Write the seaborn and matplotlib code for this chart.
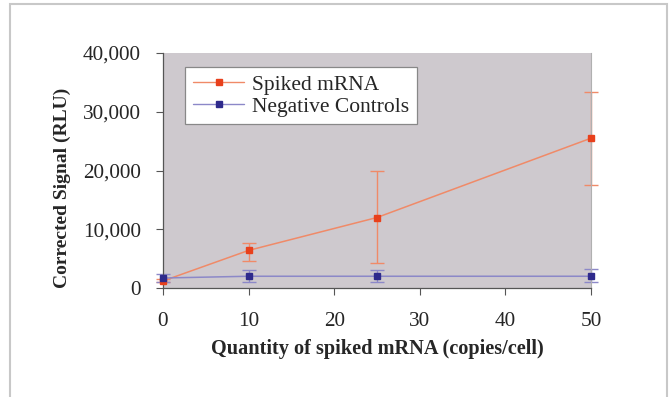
import numpy as np
import pandas as pd
import matplotlib
matplotlib.use("Agg")
import matplotlib.pyplot as plt
import seaborn as sns
from matplotlib.patches import Rectangle
from matplotlib.lines import Line2D
from matplotlib.ticker import FuncFormatter

quantity = [0, 10, 25, 50]
spiked = [1200, 6400, 12000, 25500]
spiked_lo = [1000, 4600, 4200, 17600]
spiked_hi = [1500, 7600, 20000, 33300]
negative = [1700, 2000, 2000, 2000]
negative_lo = [1000, 1000, 1000, 1000]
negative_hi = [2300, 3000, 3000, 3300]
series_names = ["Spiked mRNA", "Negative Controls"]

sns.set_style("white")
plt.rcParams["font.family"] = ["Liberation Serif", "DejaVu Serif"]

fig = plt.figure(figsize=(6.71, 3.97), dpi=100)
ax = fig.add_axes([163/671, 1 - 288/397, (591-163)/671, (288-53)/397])

df = pd.DataFrame({
    "x": quantity * 2,
    "y": spiked + negative,
    "series": [series_names[0]] * 4 + [series_names[1]] * 4,
})
line_cols = {series_names[0]: "#F08A68", series_names[1]: "#8C88C8"}
mk_cols = {series_names[0]: "#E8401C", series_names[1]: "#2E2A8C"}

sns.lineplot(data=df, x="x", y="y", hue="series", palette=line_cols, ax=ax,
             linewidth=1.1, legend=False, zorder=3)
for name, y, lo, hi in [(series_names[0], spiked, spiked_lo, spiked_hi),
                        (series_names[1], negative, negative_lo, negative_hi)]:
    y = np.array(y); lo = np.array(lo); hi = np.array(hi)
    ax.errorbar(quantity, y, yerr=[y - lo, hi - y], fmt="none",
                ecolor=line_cols[name], elinewidth=1.0, capsize=5, capthick=1.0,
                zorder=2, clip_on=False)
    ax.plot(quantity, y, linestyle="none", marker="s", markersize=4.8,
            color=mk_cols[name], zorder=4, clip_on=False)

ax.set_facecolor("#CEC9CE")
ax.set_xlim(0, 50)
ax.set_ylim(0, 40000)
ax.set_xticks([0, 10, 20, 30, 40, 50])
ax.set_yticks([0, 10000, 20000, 30000, 40000])
ax.yaxis.set_major_formatter(FuncFormatter(lambda v, p: f"{int(v):,}"))
ax.spines["top"].set_visible(False)
ax.spines["right"].set_color("#B0B0B0")
ax.spines["right"].set_linewidth(0.8)
for s in ["left", "bottom"]:
    ax.spines[s].set_color("#555555")
    ax.spines[s].set_linewidth(0.9)
ax.tick_params(axis="both", direction="out", length=5, width=0.8, color="#555555",
               labelsize=15.3, left=True, bottom=True)
ax.tick_params(axis="x", pad=12)
ax.tick_params(axis="y", pad=11)
ax.set_xlabel("Quantity of spiked mRNA (copies/cell)", fontsize=14.6, fontweight="bold", labelpad=6)
ax.set_ylabel("Corrected Signal (RLU)", fontsize=14, fontweight="bold")
ax.yaxis.set_label_coords(-0.214, 0.425)

handles = [Line2D([], [], color=line_cols[n], marker="s", markersize=4.5,
                  markerfacecolor=mk_cols[n], markeredgecolor=mk_cols[n], linewidth=1.0)
           for n in series_names]
leg = ax.legend(handles, series_names, loc="upper left", bbox_to_anchor=(0.052, 0.94),
                fontsize=15.5, frameon=True, fancybox=False, edgecolor="#888888",
                framealpha=1, borderpad=0.35, borderaxespad=0, handlelength=2.4,
                handletextpad=0.35, labelspacing=0.1)
leg.get_frame().set_linewidth(0.9)

fig.patches.append(Rectangle((10/671, -0.01), (667-10)/671, 1 - 4/397 + 0.01,
                             transform=fig.transFigure, fill=False,
                             edgecolor="#C8C8C8", linewidth=1.5))

fig.savefig("out.png", dpi=100)
